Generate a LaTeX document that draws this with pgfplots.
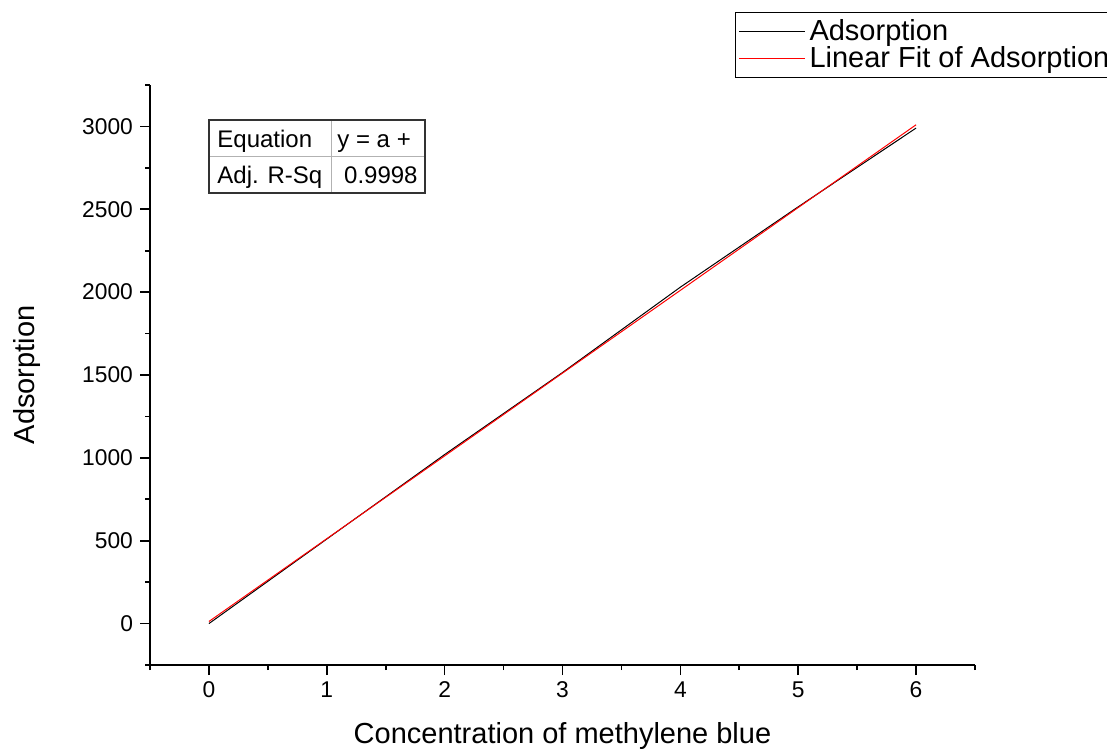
\documentclass[border=0pt]{standalone}
\usepackage{fontspec}
\setmainfont{Liberation Sans}
\usepackage{pgfplots}
\pgfplotsset{compat=1.18}
\begin{document}
\begin{tikzpicture}[x=1pt,y=1pt]
\path[use as bounding box] (0,0) rectangle (553.5,374.5);
\begin{axis}[
  at={(75pt,42pt)}, anchor=south west,
  width=412.5pt, height=290pt, scale only axis,
  xmin=-0.5, xmax=6.5, ymin=-250, ymax=3250,
  axis x line=bottom, axis y line=left,
  axis line style={line width=1pt,-},
  xtick={0,1,2,3,4,5,6},
  ytick={0,500,1000,1500,2000,2500,3000},
  minor x tick num=1, minor y tick num=1,
  extra x ticks={-0.5,6.5}, extra x tick labels={},
  extra x tick style={major tick length=2.5pt},
  extra y ticks={-250,3250}, extra y tick labels={},
  extra y tick style={major tick length=2.5pt},
  tick align=outside,
  major tick length=5pt, minor tick length=2.5pt,
  tick style={line width=0.8pt, black},
  /pgf/number format/assume math mode=true,
  /pgf/number format/1000 sep={},
  ticklabel style={font=\fontsize{11.4}{13}\selectfont},
  xlabel={Concentration of methylene blue},
  ylabel={Adsorption},
  label style={font=\fontsize{14.5}{16}\selectfont},
  xlabel style={yshift=2pt},
  ylabel style={yshift=6.5pt},
  legend style={at={(0.709,1.126)}, anchor=north west, draw=black, line width=0.6pt,
    font=\fontsize{14.5}{16}\selectfont, row sep=-2.5pt, inner sep=1.5pt},
  legend cell align=left,
  legend image code/.code={\draw[#1, line width=0.5pt] (1pt,0pt) -- (34pt,0pt);},
  clip=false,
]
\addplot[black, line width=0.5pt] coordinates {
(0,0) (1,510) (2,1020) (3,1515) (4,2030) (5,2515) (6,2990)
};
\addlegendentry{Adsorption}
\addplot[red, line width=0.5pt] coordinates {
(0,12.6) (6,3010)
};
\addlegendentry{Linear Fit of Adsorption}
\end{axis}
% fit statistics table
\begin{scope}[font=\fontsize{12}{14}\selectfont]
\draw[gray!60, line width=0.4pt] (104.5,296.5) -- (212.5,296.5);
\draw[gray!60, line width=0.4pt] (165.5,278) -- (165.5,314.5);
\draw[black!80, line width=0.6pt] (104.5,278) rectangle (212.5,314.5);
\node[anchor=base west, inner sep=0] at (108.5,300.5) {Equation};
\node[anchor=base west, inner sep=0] at (168.5,300.5) {y = a +};
\node[anchor=base west, inner sep=0] at (108.5,282.5) {Adj. R-Sq};
\node[anchor=base east, inner sep=0] at (209,282.5) {0.9998};
\end{scope}
\end{tikzpicture}
\end{document}
